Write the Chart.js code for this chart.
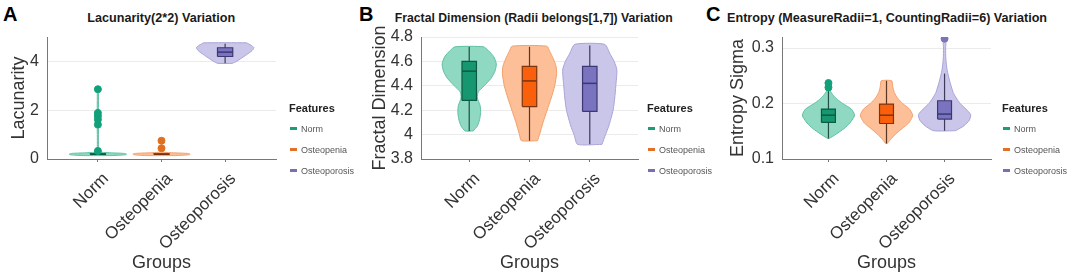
<!DOCTYPE html>
<html>
<head>
<meta charset="utf-8">
<script src="https://cdn.jsdelivr.net/npm/chart.js@4.4.0/dist/chart.umd.min.js"></script>
<style>
    body { margin: 0; width: 1072px; height: 277px; background: #fff; position: relative; overflow: hidden;
           font-family: 'Liberation Sans', Arial, sans-serif; }
    canvas { position: absolute; top: 0; }
    .letter { position: absolute; top: 4px; font-weight: bold; font-size: 20px; line-height: 1; color: #000; }
    .title { position: absolute; top: 11px; font-weight: bold; font-size: 13px; line-height: 1; color: #1a1a1a;
             white-space: nowrap; }
    .legend { position: absolute; top: 0; }
    .legend .head { position: absolute; top: 103px; font-weight: bold; font-size: 11px; line-height: 1; color: #222; white-space: nowrap; }
    .legend .item { position: absolute; font-size: 9px; line-height: 1; color: #555; white-space: nowrap; }
    .legend .item i { display: inline-block; width: 7px; height: 3px; margin: 0 4px 2px 1px; vertical-align: middle; }
</style>
</head>
<body>
<div class="letter" style="left:3px">A</div>
<div class="letter" style="left:359px">B</div>
<div class="letter" style="left:706px">C</div>

<div class="title" id="tA" data-center="161" data-width="148">Lacunarity(2*2) Variation</div>
<div class="title" id="tB" data-center="534" data-width="278">Fractal Dimension (Radii belongs[1,7]) Variation</div>
<div class="title" id="tC" data-center="887" data-width="320">Entropy (MeasureRadii=1, CountingRadii=6) Variation</div>

<canvas id="chartA" width="360" height="277" style="left:0"></canvas>
<canvas id="chartB" width="355" height="277" style="left:360px"></canvas>
<canvas id="chartC" width="357" height="277" style="left:715px"></canvas>

<div class="legend" id="legA" style="left:289px"></div>
<div class="legend" id="legB" style="left:647px"></div>
<div class="legend" id="legC" style="left:1002px"></div>

<script>
// groups on the x axis
const groups = ['Norm', 'Osteopenia', 'Osteoporosis'];

// A - Lacunarity: violin profiles [value, relative width]
const lacTicks = [0, 2, 4];
const lacTickLabels = ['0', '2', '4'];
const lacNorm = [[0.14, 0.5], [0.17, 0.95], [0.2, 1.0], [0.23, 0.9], [0.26, 0.35], [0.3, 0.04], [0.5, 0.02], [1.0, 0.02], [1.5, 0.03], [2.0, 0.025], [2.5, 0.02], [2.86, 0.02]];
const lacPenia = [[0.14, 0.5], [0.17, 0.95], [0.2, 1.0], [0.23, 0.9], [0.26, 0.3], [0.28, 0.02]];
const lacPorosis = [[3.92, 0.25], [4.0, 0.4], [4.1, 0.53], [4.2, 0.66], [4.3, 0.78], [4.4, 0.9], [4.5, 0.98], [4.57, 1.0], [4.65, 0.92], [4.72, 0.82], [4.76, 0.75]];
// [lower whisker, q1, median, q3, upper whisker]
const lacBoxes = [[0.18, 0.19, 0.2, 0.21, 0.22], [0.18, 0.19, 0.2, 0.21, 0.22], [3.92, 4.2, 4.38, 4.56, 4.72]];
const lacOutliers = [[0.33, 1.41, 1.62, 1.76, 1.89, 2.86], [0.44, 0.75], []];

// B - Fractal dimension
const fdTicks = [3.8, 4, 4.2, 4.4, 4.6, 4.8];
const fdTickLabels = ['3.8', '4', '4.2', '4.4', '4.6', '4.8'];
const fdNorm = [[4.03, 0.15], [4.07, 0.3], [4.12, 0.38], [4.18, 0.42], [4.24, 0.4], [4.3, 0.3], [4.35, 0.33], [4.4, 0.55], [4.46, 0.8], [4.52, 0.95], [4.58, 1.0], [4.64, 0.9], [4.69, 0.7], [4.72, 0.52]];
const fdPenia = [[3.95, 0.3], [4.0, 0.37], [4.1, 0.5], [4.2, 0.65], [4.3, 0.8], [4.4, 0.93], [4.5, 1.0], [4.56, 0.98], [4.62, 0.88], [4.68, 0.75], [4.725, 0.64]];
const fdPorosis = [[3.92, 0.45], [4.0, 0.58], [4.07, 0.7], [4.2, 0.86], [4.3, 0.92], [4.4, 0.96], [4.53, 1.0], [4.6, 0.9], [4.66, 0.75], [4.74, 0.55]];
const fdBoxes = [[4.03, 4.28, 4.52, 4.6, 4.72], [3.95, 4.23, 4.44, 4.56, 4.72], [3.92, 4.19, 4.42, 4.56, 4.73]];
const fdOutliers = [[], [], []];

// C - Entropy sigma
const entTicks = [0.1, 0.2, 0.3];
const entTickLabels = ['0.1', '0.2', '0.3'];
const entNorm = [[0.137, 0.03], [0.145, 0.3], [0.155, 0.6], [0.165, 0.82], [0.175, 0.97], [0.18, 1.0], [0.19, 0.88], [0.2, 0.55], [0.207, 0.35], [0.215, 0.18], [0.222, 0.08], [0.228, 0.04]];
const entPenia = [[0.128, 0.03], [0.135, 0.15], [0.145, 0.35], [0.155, 0.6], [0.165, 0.85], [0.175, 0.98], [0.18, 1.0], [0.19, 0.88], [0.2, 0.62], [0.21, 0.42], [0.22, 0.3], [0.23, 0.24], [0.241, 0.2]];
const entPorosis = [[0.151, 0.42], [0.16, 0.75], [0.17, 0.95], [0.18, 1.0], [0.19, 0.82], [0.2, 0.6], [0.21, 0.45], [0.22, 0.33], [0.24, 0.2], [0.26, 0.1], [0.28, 0.05], [0.3, 0.04], [0.312, 0.05]];
const entBoxes = [[0.137, 0.166, 0.179, 0.19, 0.226], [0.128, 0.164, 0.179, 0.199, 0.241], [0.151, 0.172, 0.181, 0.205, 0.254]];
const entOutliers = [[0.229, 0.237], [], [0.317]];

// colours per group
const palette = [
    { fill: '#8fd8c2', edge: '#5fc0a2', box: '#16976f', boxEdge: '#0b5a43', whisker: '#1f4f42', dot: '#12a07a', key: '#1b9e77' },
    { fill: '#fcbf98', edge: '#f2a06c', box: '#fa600c', boxEdge: '#7a3410', whisker: '#5a3620', dot: '#e0701f', key: '#e0702a' },
    { fill: '#cac6e9', edge: '#a8a3d6', box: '#7a73c0', boxEdge: '#3d3872', whisker: '#3e3a5a', dot: '#7b74b8', key: '#7570b3' }
];
const halfWidth = 0.45;
const boxHalf = 0.12;

function violinPath(pos, profile) {
    const right = profile.map(p => ({ x: pos + p[1] * halfWidth, y: p[0] }));
    const left = profile.slice().reverse().map(p => ({ x: pos - p[1] * halfWidth, y: p[0] }));
    return right.concat(left, [right[0]]);
}

function buildDatasets(profiles, boxes, outliers) {
    const sets = [];
    profiles.forEach((prof, i) => {
        const pos = i + 1, c = palette[i], b = boxes[i];
        sets.push({
            type: 'line', data: violinPath(pos, prof), order: 5,
            backgroundColor: c.fill, borderColor: c.edge, borderWidth: 1,
            fill: 'shape', tension: 0.2, pointRadius: 0, showLine: true
        });
        sets.push({
            type: 'line', data: [{ x: pos, y: b[0] }, { x: pos, y: b[4] }], order: 4,
            borderColor: c.whisker, borderWidth: 1.2, pointRadius: 0, showLine: true, fill: false
        });
        sets.push({
            type: 'line', order: 3,
            data: [{ x: pos - boxHalf, y: b[1] }, { x: pos + boxHalf, y: b[1] }, { x: pos + boxHalf, y: b[3] },
                   { x: pos - boxHalf, y: b[3] }, { x: pos - boxHalf, y: b[1] }],
            backgroundColor: c.box, borderColor: c.boxEdge, borderWidth: 1.2,
            fill: 'shape', tension: 0, pointRadius: 0, showLine: true
        });
        sets.push({
            type: 'line', data: [{ x: pos - boxHalf, y: b[2] }, { x: pos + boxHalf, y: b[2] }], order: 2,
            borderColor: c.boxEdge, borderWidth: 1.5, pointRadius: 0, showLine: true, fill: false
        });
        sets.push({
            type: 'scatter', data: outliers[i].map(v => ({ x: pos, y: v })), order: 1,
            backgroundColor: c.dot, borderColor: c.dot, pointRadius: 3.5, showLine: false
        });
    });
    return sets;
}

function makePanel(id, cfg) {
    new Chart(document.getElementById(id), {
        type: 'scatter',
        data: { datasets: buildDatasets(cfg.profiles, cfg.boxes, cfg.outliers) },
        options: {
            responsive: false,
            devicePixelRatio: 1,
            animation: false,
            layout: { padding: { left: 0, right: cfg.padRight, top: 37, bottom: 0 } },
            plugins: { legend: { display: false }, tooltip: { enabled: false }, title: { display: false } },
            scales: {
                x: {
                    type: 'linear', min: 0.2, max: 3.8,
                    afterBuildTicks: s => { s.ticks = groups.map((g, i) => ({ value: i + 1 })); },
                    afterFit: s => { s.height = 118; },
                    ticks: {
                        autoSkip: false, minRotation: 45, maxRotation: 45, padding: 7, labelOffset: 8,
                        font: { family: 'Liberation Sans', size: 17 }, color: '#333',
                        callback: v => groups[Math.round(v) - 1]
                    },
                    grid: { drawOnChartArea: false, tickLength: 3, color: '#777' },
                    border: { color: '#777' },
                    title: { display: true, text: 'Groups', font: { family: 'Liberation Sans', size: 18 }, color: '#333',
                             padding: { top: 0, bottom: 3 } }
                },
                y: {
                    min: cfg.yMin, max: cfg.yMax,
                    afterBuildTicks: s => { s.ticks = cfg.ticks.map(v => ({ value: v })); },
                    afterFit: s => { s.width = cfg.yWidth; },
                    ticks: {
                        padding: 8, font: { family: 'Liberation Sans', size: 16 }, color: '#333',
                        callback: (v, i) => cfg.tickLabels[i]
                    },
                    grid: { color: '#ebebeb', drawTicks: false },
                    border: { color: '#777' },
                    title: { display: true, text: cfg.yTitle, font: { family: 'Liberation Sans', size: 18 }, color: '#333',
                             padding: { top: cfg.titlePad, bottom: 0 } }
                }
            }
        }
    });
}

makePanel('chartA', {
    profiles: [lacNorm, lacPenia, lacPorosis], boxes: lacBoxes, outliers: lacOutliers,
    yMin: 0, yMax: 5, ticks: lacTicks, tickLabels: lacTickLabels,
    yTitle: 'Lacunarity', yWidth: 47, padRight: 84, titlePad: 8
});
makePanel('chartB', {
    profiles: [fdNorm, fdPenia, fdPorosis], boxes: fdBoxes, outliers: fdOutliers,
    yMin: 3.8, yMax: 4.8, ticks: fdTicks, tickLabels: fdTickLabels,
    yTitle: 'Fractal Dimension', yWidth: 61, padRight: 77, titlePad: 9
});
makePanel('chartC', {
    profiles: [entNorm, entPenia, entPorosis], boxes: entBoxes, outliers: entOutliers,
    yMin: 0.1, yMax: 0.32, ticks: entTicks, tickLabels: entTickLabels,
    yTitle: 'Entropy Sigma', yWidth: 67, padRight: 81, titlePad: 12
});

// legends
['legA', 'legB', 'legC'].forEach(id => {
    const el = document.getElementById(id);
    let html = '<div class="head">Features</div>';
    groups.forEach((g, i) => {
        html += '<div class="item" style="top:' + (125 + i * 21) + 'px"><i style="background:' + palette[i].key + '"></i>' + g + '</div>';
    });
    el.innerHTML = html;
});

// squeeze panel titles to the width they take in the figure
document.querySelectorAll('.title').forEach(el => {
    const w = el.getBoundingClientRect().width;
    const target = +el.dataset.width;
    const k = target / w;
    el.style.left = (+el.dataset.center - w / 2) + 'px';
    el.style.transform = 'scaleX(' + k + ')';
    el.style.transformOrigin = 'center';
});
</script>
</body>
</html>
